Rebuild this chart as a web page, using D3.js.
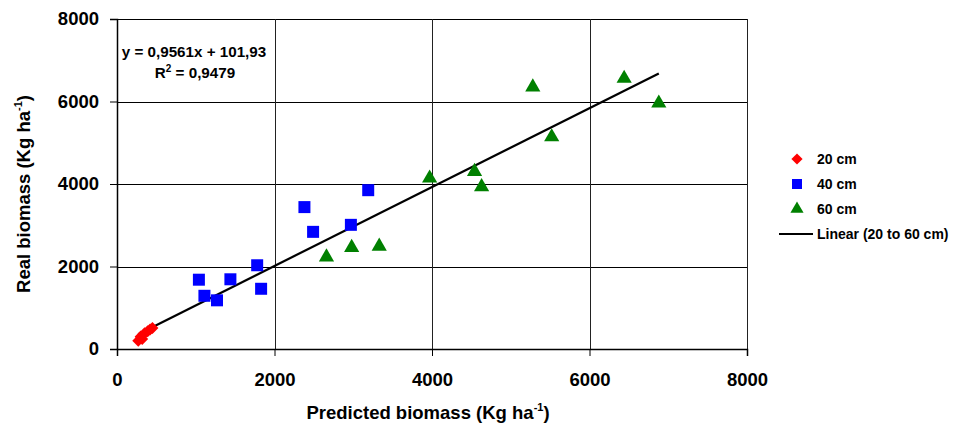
<!DOCTYPE html>
<html>
<head>
<meta charset="utf-8">
<script src="https://cdn.jsdelivr.net/npm/d3@7"></script>
<style>
  body { margin: 0; background: #fff; }
  text { font-family: "Liberation Sans", Arial, sans-serif; font-weight: bold; }
</style>
</head>
<body>
<svg id="chart" width="953" height="426"></svg>
<script>
// 数据：预测值 / 实测值
const cm20Pred = [270, 300, 320, 350, 390, 420, 450];
const cm20Real = [200, 300, 240, 380, 430, 470, 510];
const cm40Pred = [1040, 1110, 1270, 1440, 1780, 1830, 2380, 2490, 2970, 3190];
const cm40Real = [1680, 1290, 1180, 1690, 2030, 1460, 3440, 2840, 3010, 3850];
const cm60Pred = [2660, 2980, 3330, 3970, 4540, 4630, 5280, 5520, 6440, 6880];
const cm60Real = [2230, 2460, 2490, 4140, 4300, 3930, 6350, 5140, 6560, 5960];
const tickValues = [0, 2000, 4000, 6000, 8000];
const slope = 0.9561, intercept = 101.93;
const legendLabels = ["20 cm", "40 cm", "60 cm", "Linear (20 to 60 cm)"];

const margin = {left: 117, top: 19, right: 206, bottom: 77};
const width = 953 - margin.left - margin.right,
      height = 426 - margin.top - margin.bottom;

const svg = d3.select("#chart");
const g = svg.append("g").attr("transform", `translate(${margin.left},${margin.top})`);

const x = d3.scaleLinear().domain([0, 8000]).range([0, width]);
const y = d3.scaleLinear().domain([0, 8000]).range([height, 0]);

// 网格线
g.append("g").selectAll("line").data(tickValues).join("line")
  .attr("x1", 0).attr("x2", width)
  .attr("y1", d => Math.round(y(d)) + 0.5).attr("y2", d => Math.round(y(d)) + 0.5)
  .attr("stroke", "#000");
g.append("g").selectAll("line").data(tickValues).join("line")
  .attr("y1", 0).attr("y2", height)
  .attr("x1", d => Math.round(x(d)) + 0.5).attr("x2", d => Math.round(x(d)) + 0.5)
  .attr("stroke", "#222");

// 坐标轴
const xAxis = g.append("g").attr("transform", `translate(0,${height})`)
  .call(d3.axisBottom(x).tickValues(tickValues).tickSize(7).tickPadding(17).tickFormat(d3.format("d")));
const yAxis = g.append("g")
  .call(d3.axisLeft(y).tickValues(tickValues).tickSize(7).tickPadding(11).tickFormat(d3.format("d")));
[xAxis, yAxis].forEach(a => {
  a.select(".domain").attr("stroke", "#000").attr("stroke-width", 1.5);
  a.selectAll(".tick line").attr("stroke", "#000");
  a.selectAll(".tick text").attr("fill", "#000")
    .style("font-size", "18.5px").style("font-family", "Liberation Sans, Arial, sans-serif").style("font-weight", "bold");
});

// 趋势线
const xs = cm20Pred.concat(cm40Pred, cm60Pred);
const xMin = d3.min(xs), xMax = d3.max(xs);
g.append("line")
  .attr("x1", x(xMin)).attr("y1", y(slope * xMin + intercept))
  .attr("x2", x(xMax)).attr("y2", y(slope * xMax + intercept))
  .attr("stroke", "#000").attr("stroke-width", 2.2);

// 散点
const series = [
  {pred: cm20Pred, real: cm20Real, sym: d3.symbolDiamond2, color: "#ff0000", size: 92, lsize: 80},
  {pred: cm40Pred, real: cm40Real, sym: d3.symbolSquare, color: "#0000ff", size: 144, lsize: 100},
  {pred: cm60Pred, real: cm60Real, sym: d3.symbolTriangle, color: "#008000", size: 100, lsize: 75}
];
series.forEach(s => {
  g.append("g").selectAll("path").data(s.pred).join("path")
    .attr("d", d3.symbol().type(s.sym).size(s.size))
    .attr("transform", (d, i) => `translate(${x(d)},${y(s.real[i])})`)
    .attr("fill", s.color);
});

// 方程
const eq = g.append("text").attr("text-anchor", "middle").style("font-size", "15.2px");
eq.append("tspan").attr("x", 77).attr("y", 38).text("y = 0,9561x + 101,93");
const r2 = g.append("text").attr("text-anchor", "middle").attr("x", 78).attr("y", 59).style("font-size", "15.2px");
r2.append("tspan").text("R");
r2.append("tspan").attr("dy", -6).style("font-size", "10px").text("2");
r2.append("tspan").attr("dy", 6).text(" = 0,9479");

// 坐标轴标题
const xt = svg.append("text").attr("text-anchor", "middle")
  .attr("x", 428).attr("y", 419).style("font-size", "18.5px");
xt.append("tspan").text("Predicted biomass (Kg ha");
xt.append("tspan").attr("dy", -8).style("font-size", "11px").text("-1");
xt.append("tspan").attr("dy", 8).text(")");

const yt = svg.append("text").attr("text-anchor", "middle")
  .attr("transform", "translate(30,194) rotate(-90)").style("font-size", "18.5px");
yt.append("tspan").text("Real biomass (Kg ha");
yt.append("tspan").attr("dy", -8).style("font-size", "11px").text("-1");
yt.append("tspan").attr("dy", 8).text(")");

// 图例
const legend = svg.append("g").attr("transform", "translate(797,159)");
series.forEach((s, i) => {
  legend.append("path")
    .attr("d", d3.symbol().type(s.sym).size(s.lsize))
    .attr("transform", `translate(0,${i * 25})`)
    .attr("fill", s.color);
});
legend.append("line").attr("x1", -18).attr("x2", 16).attr("y1", 75).attr("y2", 75)
  .attr("stroke", "#000").attr("stroke-width", 2);
legendLabels.forEach((t, i) => {
  legend.append("text").attr("x", 20).attr("y", i * 25 + 5)
    .style("font-size", "14px").text(t);
});
</script>
</body>
</html>
